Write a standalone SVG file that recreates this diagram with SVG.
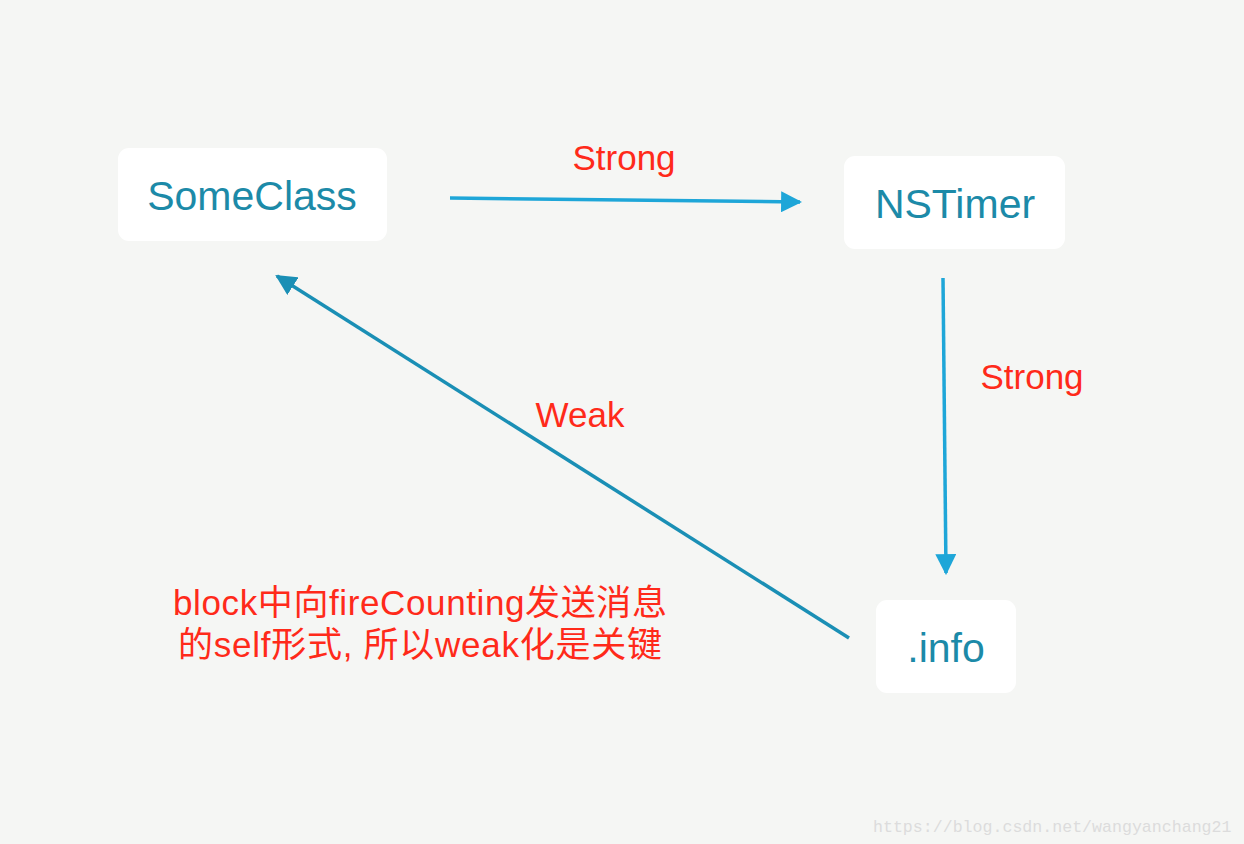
<svg xmlns="http://www.w3.org/2000/svg" width="1244" height="844" viewBox="0 0 1244 844">
<defs>
<style>
.node{fill:#ffffff}
.nt{font-family:"Liberation Sans","Noto Sans",sans-serif;font-size:41px;fill:#1c8aa8;text-anchor:middle}
.lbl{font-family:"Liberation Sans",sans-serif;font-size:35px;fill:#ff2a1a;text-anchor:middle}
.note{font-family:"Liberation Sans","Noto Sans CJK SC",sans-serif;font-size:35px;fill:#ff2a1a}
.wm{font-family:"Liberation Mono","DejaVu Sans Mono",monospace;font-size:16.6px;fill:#dcdcdc}
.c1{stroke:#1ea6d8;stroke-width:3.5;fill:none}
.c2{stroke:#1a8fb5;stroke-width:3.5;fill:none}
</style>
<marker id="ah1" viewBox="0 0 10 10" refX="9" refY="5" markerWidth="6" markerHeight="6" orient="auto" markerUnits="strokeWidth"><path d="M0,0 L10,5 L0,10 z" fill="#1ea6d8"/></marker>
<marker id="ah2" viewBox="0 0 10 10" refX="9" refY="5" markerWidth="6" markerHeight="6" orient="auto" markerUnits="strokeWidth"><path d="M0,0 L10,5 L0,10 z" fill="#1a8fb5"/></marker>
</defs>
<rect width="1244" height="844" fill="#f5f6f4"/>
<g id="someclass"><rect class="node" x="118" y="148" width="269" height="93" rx="11"/><text class="nt" x="252" y="210">SomeClass</text></g>
<g id="nstimer"><rect class="node" x="844" y="156" width="221" height="93" rx="11"/><text class="nt" x="955" y="218">NSTimer</text></g>
<g id="info"><rect class="node" x="876" y="600" width="140" height="93" rx="11"/><text class="nt" x="946" y="662">.info</text></g>
<g id="connectors">
<line class="c1" x1="450" y1="198" x2="800" y2="202" marker-end="url(#ah1)"/>
<line class="c1" x1="943" y1="278" x2="946" y2="573" marker-end="url(#ah1)"/>
<line class="c2" x1="849" y1="638" x2="277" y2="276" marker-end="url(#ah2)"/>
</g>
<g id="labels">
<text class="lbl" x="624" y="170">Strong</text>
<text class="lbl" x="1032" y="389">Strong</text>
<text class="lbl" x="580" y="427">Weak</text>
<text class="note" x="173" y="615" textLength="494" lengthAdjust="spacing">block中向fireCounting发送消息</text>
<text class="note" x="178" y="657" textLength="484" lengthAdjust="spacing">的self形式, 所以weak化是关键</text>
<text class="wm" x="873" y="832">https://blog.csdn.net/wangyanchang21</text>
</g>
</svg>
